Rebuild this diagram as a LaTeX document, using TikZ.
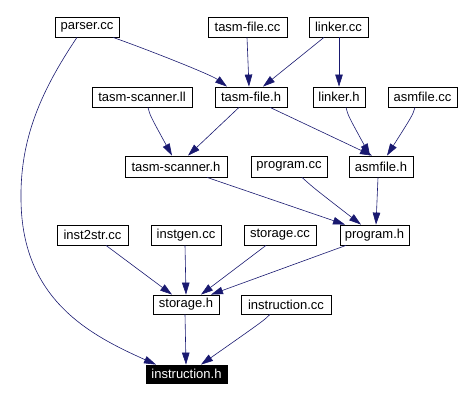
\documentclass[tikz,border=0pt]{standalone}
\usepackage{fontspec}
\setmainfont{Liberation Sans}
\usetikzlibrary{arrows.meta}
\definecolor{edgecol}{HTML}{191970}
\tikzset{
  box/.style={draw=black, line width=0.8pt, fill=white, inner sep=0pt, minimum height=20pt,
    font=\fontsize{13}{14}\selectfont},
  hilite/.style={box, fill=black, draw=black, text=white},
  dep/.style={draw=edgecol, line width=0.6pt, -{Triangle[length=12pt,width=7.5pt]}}
}
\begin{document}
\begin{tikzpicture}[x=1pt,y=-1pt]
\useasboundingbox (0,0) rectangle (462,401);
\node[box, minimum width=64pt] (parser) at (87,27) {parser.cc};
\node[box, minimum width=79pt] (tfcc) at (247.5,27) {tasm-file.cc};
\node[box, minimum width=59pt] (lcc) at (338.5,27) {linker.cc};
\node[box, minimum width=100pt] (tsll) at (142,97) {tasm-scanner.ll};
\node[box, minimum width=72pt] (tfh) at (251,97) {tasm-file.h};
\node[box, minimum width=52pt] (lh) at (339,97) {linker.h};
\node[box, minimum width=69pt] (acc) at (422.5,97) {asmfile.cc};
\node[box, minimum width=102pt, minimum height=21pt] (tsh) at (176,166.5) {tasm-scanner.h};
\node[box, minimum width=76pt, minimum height=21pt] (pcc) at (289,166.5) {program.cc};
\node[box, minimum width=64pt, minimum height=21pt] (ah) at (381,166.5) {asmfile.h};
\node[box, minimum width=71pt] (i2s) at (92.5,235) {inst2str.cc};
\node[box, minimum width=70pt] (igen) at (186,235) {instgen.cc};
\node[box, minimum width=72pt] (scc) at (280,235) {storage.cc};
\node[box, minimum width=69pt] (ph) at (374.5,235) {program.h};
\node[box, minimum width=66pt, minimum height=19pt] (sh) at (186,304.5) {storage.h};
\node[box, minimum width=90pt, minimum height=19pt] (icc) at (286,304.5) {instruction.cc};
\node[hilite, minimum width=81pt, minimum height=18pt] (ih) at (186.5,374) {instruction.h};

\draw[dep] ([xshift=26pt]parser.south) .. controls ([xshift=60pt,yshift=-12pt]parser.south) and ([xshift=-40pt,yshift=12pt]tfh.north) .. ([xshift=-24pt]tfh.north);
\draw[dep] ([xshift=-10pt]parser.south) .. controls ([xshift=-47pt,yshift=-55pt]parser.south) and (20,140) .. (21,200)
  .. controls (22,300) and (90,335) .. ([xshift=-30.5pt]ih.north);
\draw[dep] ([xshift=-0.5pt]tfcc.south) -- ([xshift=-2pt]tfh.north);
\draw[dep] ([xshift=-14.5pt]lcc.south) -- ([xshift=12pt]tfh.north);
\draw[dep] ([xshift=0.5pt]lcc.south) -- (lh.north);
\draw[dep] ([xshift=6pt]tsll.south) .. controls ([xshift=8pt,yshift=-8pt]tsll.south) .. ([xshift=-4pt]tsh.north);
\draw[dep] ([xshift=-12pt]tfh.south) -- ([xshift=12pt]tsh.north);
\draw[dep] ([xshift=19pt]tfh.south) -- ([xshift=-9pt]ah.north);
\draw[dep] ([xshift=7pt]lh.south) .. controls ([xshift=9pt,yshift=-8pt]lh.south) .. ([xshift=-11pt]ah.north);
\draw[dep] ([xshift=-7.5pt]acc.south) .. controls ([xshift=-10pt,yshift=-8pt]acc.south) .. ([xshift=6pt]ah.north);
\draw[dep] ([xshift=31pt]tsh.south) -- ([xshift=-29.5pt]ph.north);
\draw[dep] ([xshift=13pt]pcc.south) .. controls ([xshift=24pt,yshift=-10pt]pcc.south) .. ([xshift=-13.5pt]ph.north);
\draw[dep] ([xshift=-3pt]ah.south) -- ([xshift=1.5pt]ph.north);
\draw[dep] ([xshift=13.5pt]i2s.south) -- ([xshift=-14pt]sh.north);
\draw[dep] ([xshift=-1pt]igen.south) -- (sh.north);
\draw[dep] ([xshift=-14pt]scc.south) -- ([xshift=15pt]sh.north);
\draw[dep] ([xshift=-28.5pt]ph.south) -- ([xshift=25pt]sh.north);
\draw[dep] ([xshift=-1pt]sh.south) -- ([xshift=-0.5pt]ih.north);
\draw[dep] ([xshift=-16pt]icc.south) .. controls ([xshift=-22pt,yshift=-6pt]icc.south) .. ([xshift=14.5pt]ih.north);
\end{tikzpicture}
\end{document}
